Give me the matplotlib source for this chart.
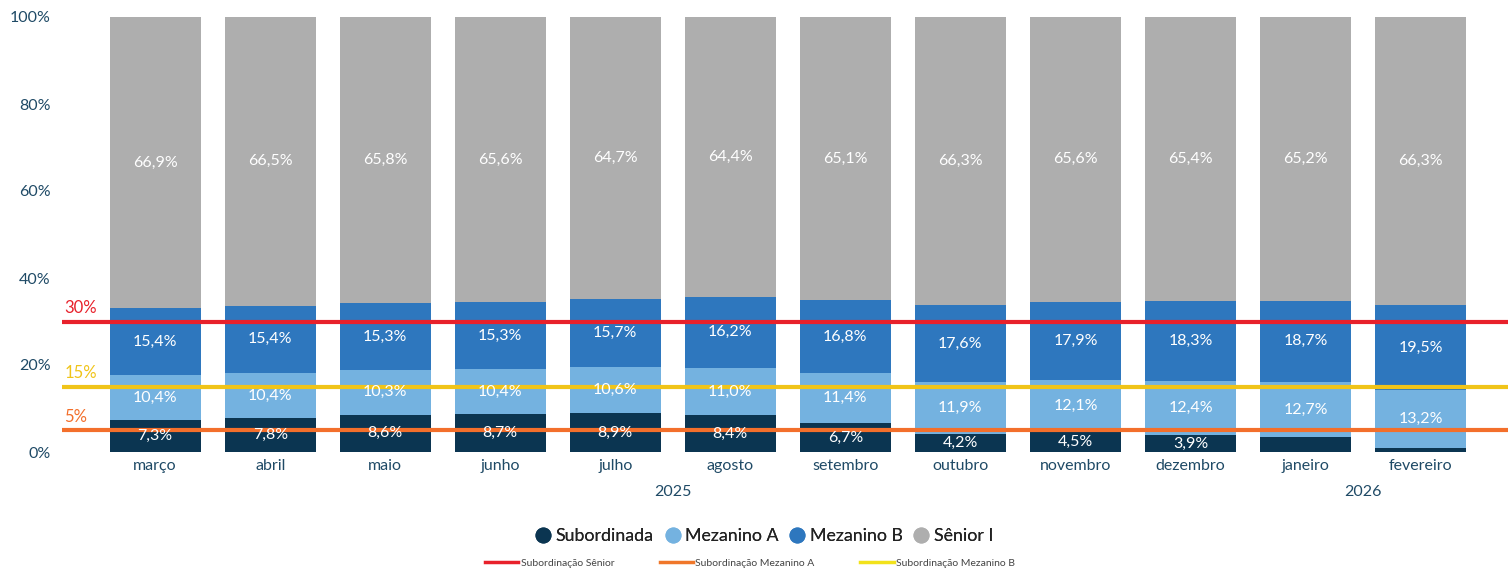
import matplotlib
matplotlib.use("Agg")
import matplotlib.pyplot as plt
from matplotlib.lines import Line2D
import numpy as np

plt.rcParams['font.family'] = ['Lato', 'DejaVu Sans']

months = ["março", "abril", "maio", "junho", "julho", "agosto", "setembro",
          "outubro", "novembro", "dezembro", "janeiro", "fevereiro"]
years = ["2025", "2026"]
year_groups = [(0, 9), (10, 11)]
subordinada = [7.3, 7.8, 8.6, 8.7, 8.9, 8.4, 6.7, 4.2, 4.5, 3.9, 3.4, 1.0]
mezanino_a = [10.4, 10.4, 10.3, 10.4, 10.6, 11.0, 11.4, 11.9, 12.1, 12.4, 12.7, 13.2]
mezanino_b = [15.4, 15.4, 15.3, 15.3, 15.7, 16.2, 16.8, 17.6, 17.9, 18.3, 18.7, 19.5]
senior = [66.9, 66.5, 65.8, 65.6, 64.7, 64.4, 65.1, 66.3, 65.6, 65.4, 65.2, 66.3]
series_names = ["Subordinada", "Mezanino A", "Mezanino B", "Sênior I"]
thresholds = [30, 5, 15]
threshold_names = ["Subordinação Sênior", "Subordinação Mezanino A", "Subordinação Mezanino B"]

colors = ["#0B3551", "#74B2E0", "#2E77BE", "#AEAEAE"]
thr_colors = ["#E8212B", "#F36F2B", "#F0C419"]
legend_thr_colors = ["#E8212B", "#F0772A", "#F2E21B"]
text_col = "#1F4A66"

fig = plt.figure(figsize=(15.08, 5.69), dpi=100)
ax = fig.add_axes([62/1508, 1-452/569, (1508-62)/1508, (452-17)/569])

x = np.arange(len(months))
data = [subordinada, mezanino_a, mezanino_b, senior]
bottom = np.zeros(len(months))
for vals, c in zip(data, colors):
    vals = np.array(vals)
    ax.bar(x, vals, bottom=bottom, width=0.79, color=c, zorder=2)
    for xi, b, v in zip(x, bottom, vals):
        if v >= 3.8:
            ax.text(xi, b + v/2, f"{v:.1f}%".replace(".", ","), ha="center", va="center",
                    color="white", fontsize=11.5, zorder=4)
    bottom += vals

for t, c in zip(thresholds, thr_colors):
    ax.axhline(t, color=c, lw=3, zorder=3)
    ax.text(-0.79, t + 1.3, f"{t}%", color=c, fontsize=12, ha="left", va="bottom", zorder=4)

ax.set_xlim(-0.81, 11.76)
ax.set_ylim(0, 100)
ax.set_xticks(x)
ax.set_xticklabels(months, fontsize=11.5, color=text_col)
ax.tick_params(axis="x", length=0, pad=5)
ax.set_yticks([0, 20, 40, 60, 80, 100])
ax.set_yticklabels([f"{v}%" for v in [0, 20, 40, 60, 80, 100]], fontsize=11.5, color=text_col)
ax.tick_params(axis="y", length=0, pad=8)
for s in ax.spines.values():
    s.set_visible(False)

for yr, (a, b) in zip(years, year_groups):
    ax.text((a + b) / 2, -9.2, yr, ha="center", va="center", fontsize=11.5, color=text_col,
            transform=ax.transData, clip_on=False)

handles = [Line2D([], [], marker="o", ls="", color=c, markersize=10.5) for c in colors]
leg1 = fig.legend(handles, series_names, loc="center", bbox_to_anchor=(762/1508, 1-536/569),
                  ncol=4, frameon=False, fontsize=12.8, handletextpad=0.0, columnspacing=0.35,
                  handlelength=1.4, labelcolor="#222222")
fig.add_artist(leg1)
handles2 = [Line2D([], [], color=c, lw=2.5) for c in legend_thr_colors]
fig.legend(handles2, threshold_names, loc="center", bbox_to_anchor=(750/1508, 1-563/569),
           ncol=3, frameon=False, fontsize=7.5, handlelength=3.2, handletextpad=0.2,
           columnspacing=4.4, labelcolor="#444444")

fig.savefig("out.png", dpi=100)
